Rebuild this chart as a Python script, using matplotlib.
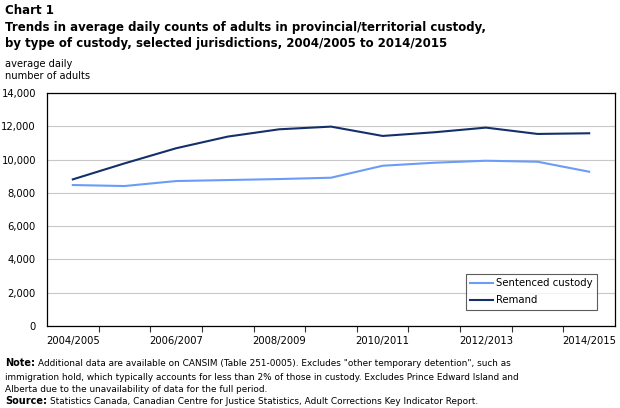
import matplotlib.pyplot as plt
from matplotlib.ticker import FuncFormatter, FixedLocator

# Data
years = ['2004/2005', '2005/2006', '2006/2007', '2007/2008', '2008/2009', '2009/2010',
         '2010/2011', '2011/2012', '2012/2013', '2013/2014', '2014/2015']
sentenced = [8470, 8410, 8710, 8770, 8830, 8910, 9630, 9810, 9930, 9870, 9270]
remand = [8810, 9770, 10680, 11380, 11820, 11980, 11420, 11640, 11920, 11540, 11580]

light = '#6b9cf7'
dark = '#13306b'

plt.rcParams['font.family'] = 'DejaVu Sans'

W, H = 620, 408
fig = plt.figure(figsize=(W / 100, H / 100), dpi=100)
ax = fig.add_axes([47 / W, 1 - 326 / H, 568 / W, 233 / H])

x = list(range(len(years)))
ax.plot(x, sentenced, color=light, lw=1.5, label='Sentenced custody')
ax.plot(x, remand, color=dark, lw=1.5, label='Remand')

ax.set_xlim(-0.5, len(years) - 0.5)
ax.set_ylim(0, 14000)
ax.set_yticks(range(0, 14001, 2000))
ax.yaxis.set_major_formatter(FuncFormatter(lambda v, p: f'{int(v):,}'))
ax.grid(axis='y', color='#c8c8c8', lw=0.8)
ax.set_axisbelow(True)
ax.tick_params(axis='y', length=0, labelsize=7.2, pad=8)

# ticks between categories, labels on every other category
ax.xaxis.set_major_locator(FixedLocator([i + 0.5 for i in range(len(years) - 1)]))
ax.xaxis.set_major_formatter(FuncFormatter(lambda v, p: ''))
ax.xaxis.set_minor_locator(FixedLocator(x[::2]))
ax.set_xticklabels(years[::2], minor=True)
ax.tick_params(axis='x', which='major', length=4, direction='out', color='#333333')
ax.tick_params(axis='x', which='minor', length=0, labelsize=7.2, pad=7)

for s in ax.spines.values():
    s.set_color('black')
    s.set_linewidth(0.9)

leg = ax.legend(loc='lower right', bbox_to_anchor=(0.968, 0.069), borderaxespad=0,
                fontsize=7.25, frameon=True, fancybox=False, edgecolor='#333333',
                handlelength=2.2, handletextpad=0.3, borderpad=0.45, labelspacing=0.7)
leg.get_frame().set_linewidth(0.8)

fig.text(5 / W, 1 - 11 / H, 'Chart 1', fontsize=8.5, fontweight='bold', va='center')
fig.text(5 / W, 1 - 28 / H,
         'Trends in average daily counts of adults in provincial/territorial custody,',
         fontsize=8.5, fontweight='bold', va='center')
fig.text(5 / W, 1 - 43 / H,
         'by type of custody, selected jurisdictions, 2004/2005 to 2014/2015',
         fontsize=8.5, fontweight='bold', va='center')
fig.text(5 / W, 1 - 70 / H, 'average daily\nnumber of adults', fontsize=7.1,
         va='center', linespacing=1.25)

note_fs = 6.4
renderer = fig.canvas.get_renderer()


def labelled(y, label, text):
    t = fig.text(5 / W, 1 - y / H, label, fontsize=7, fontweight='bold', va='center')
    bb = t.get_window_extent(renderer)
    fig.text((bb.x1 + 3) / W, 1 - y / H, text, fontsize=note_fs, va='center')


labelled(363, 'Note:', 'Additional data are available on CANSIM (Table 251-0005). '
         'Excludes "other temporary detention", such as')
fig.text(5 / W, 1 - 377 / H, 'immigration hold, which typically accounts for less than 2% '
         'of those in custody. Excludes Prince Edward Island and', fontsize=note_fs, va='center')
fig.text(5 / W, 1 - 389 / H, 'Alberta due to the unavailability of data for the full period.',
         fontsize=note_fs, va='center')
labelled(401, 'Source:', 'Statistics Canada, Canadian Centre for Justice Statistics, '
         'Adult Corrections Key Indicator Report.')

fig.savefig('out.png', dpi=100)
